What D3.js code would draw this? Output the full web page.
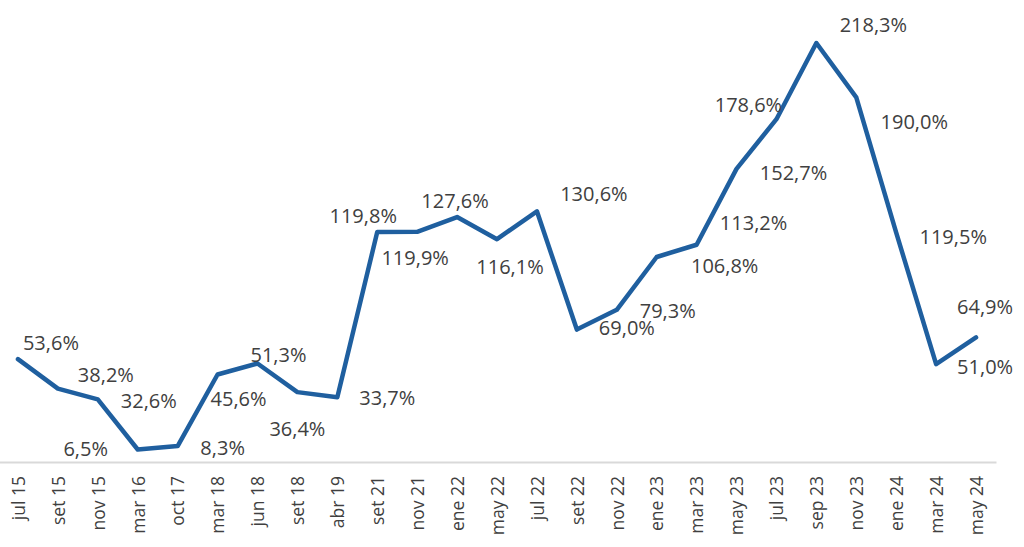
<!DOCTYPE html>
<html>
<head>
<meta charset="utf-8">
<script src="https://cdn.jsdelivr.net/npm/d3@7"></script>
<style>
  html, body { margin: 0; padding: 0; background: #fff; }
  svg { display: block; }
</style>
</head>
<body>
<svg id="chart" width="1024" height="547"></svg>
<script>
const categories = ["jul 15","set 15","nov 15","mar 16","oct 17","mar 18","jun 18","set 18","abr 19","set 21","nov 21","ene 22","may 22","jul 22","set 22","nov 22","ene 23","mar 23","may 23","jul 23","sep 23","nov 23","ene 24","mar 24","may 24"];
const values = [53.6,38.2,32.6,6.5,8.3,45.6,51.3,36.4,33.7,119.8,119.9,127.6,116.1,130.6,69.0,79.3,106.8,113.2,152.7,178.6,218.3,190.0,119.5,51.0,64.9];
// label offsets relative to each point (layout config)
const labelDx = [33,48,51,-52,45,21,21,0,50,-14,-2,-2,13,57,50,51,68,57,57,-28,57,58,57,49,9];
const labelDy = [-16,-14,1,-1,2,24,-9,37,0,-16,26,-16,28,-18,-2,1,9,-22,4,-14,-18,24,4,3,-31];

const svg = d3.select("#chart");
const x = d3.scalePoint().domain(categories).range([-2, 996]).padding(0.5);
const y = d3.scaleLinear().domain([0, 218.3]).range([462, 43]);

const fmt = v => d3.format(".1f")(v).replace(".", ",") + "%";

// x axis
const axis = svg.append("g")
  .attr("transform", "translate(0,462)")
  .call(d3.axisBottom(x).tickSize(0).tickSizeOuter(0));
axis.select(".domain").attr("stroke", "#d9d9d9").attr("stroke-width", 2);
axis.selectAll(".tick text")
  .attr("font-family", "'Open Sans', sans-serif")
  .attr("font-size", "17.5px")
  .attr("fill", "#404040")
  .attr("text-anchor", "end")
  .attr("y", 0)
  .attr("dy", "0.36em")
  .attr("transform", "translate(0,14) rotate(-90)");

// line
const line = d3.line()
  .x((d, i) => x(categories[i]))
  .y(d => y(d));
svg.append("path")
  .datum(values)
  .attr("d", line)
  .attr("fill", "none")
  .attr("stroke", "#1f5f9f")
  .attr("stroke-width", 4.5)
  .attr("stroke-linejoin", "round")
  .attr("stroke-linecap", "round");

// data labels
svg.append("g").selectAll("text")
  .data(values)
  .join("text")
  .attr("x", (d, i) => x(categories[i]) + labelDx[i])
  .attr("y", (d, i) => y(d) + labelDy[i])
  .attr("dy", "0.36em")
  .attr("text-anchor", "middle")
  .attr("font-family", "'Open Sans', sans-serif")
  .attr("font-size", "20px")
  .attr("fill", "#404040")
  .text(d => fmt(d));
</script>
</body>
</html>
